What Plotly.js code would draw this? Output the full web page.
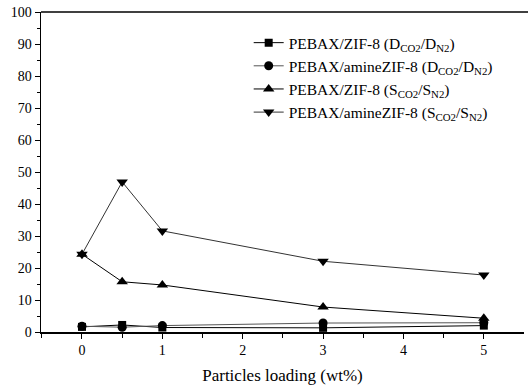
<!DOCTYPE html>
<html>
<head>
<meta charset="utf-8">
<script src="https://cdn.plot.ly/plotly-3.0.1.min.js"></script>
<style>
html,body{margin:0;padding:0;overflow:hidden;background:#fff;}
#chart{width:528px;height:385px;}
</style>
</head>
<body>
<div id="chart"></div>
<script>
const loading = [0, 0.5, 1, 3, 5];
const zifD = [1.6, 2.2, 1.4, 1.3, 2.0];
const amineD = [1.8, 1.5, 2.0, 2.8, 2.9];
const zifS = [24.3, 15.7, 14.7, 7.8, 4.3];
const amineS = [24.3, 46.9, 31.6, 22.1, 17.8];
const names = [
  'PEBAX/ZIF-8 (D<sub>CO2</sub>/D<sub>N2</sub>)',
  'PEBAX/amineZIF-8 (D<sub>CO2</sub>/D<sub>N2</sub>)',
  'PEBAX/ZIF-8 (S<sub>CO2</sub>/S<sub>N2</sub>)',
  'PEBAX/amineZIF-8 (S<sub>CO2</sub>/S<sub>N2</sub>)'
];
const xTicks = [0, 1, 2, 3, 4, 5];
const yTicks = [0, 10, 20, 30, 40, 50, 60, 70, 80, 90, 100];

function tr(y, name, sym, size, lineColor) {
  return {
    x: loading, y: y, name: name, type: 'scatter', mode: 'lines+markers',
    line: {color: lineColor, width: 1},
    marker: {symbol: sym, size: size, color: '#000'}
  };
}
const data = [
  tr(zifD, names[0], 'square', 8, '#000'),
  tr(amineD, names[1], 'circle', 9, '#555'),
  tr(zifS, names[2], 'triangle-up', 10, '#000'),
  tr(amineS, names[3], 'triangle-down', 10, '#333')
];
const fam = '"Liberation Serif", "Times New Roman", serif';
const layout = {
  width: 528, height: 385,
  margin: {l: 41, r: 4, t: 12, b: 53},
  paper_bgcolor: '#fff', plot_bgcolor: '#fff',
  font: {family: fam, size: 14, color: '#000'},
  showlegend: true,
  legend: {x: 0.43, y: 0.956, xanchor: 'left', yanchor: 'top', bgcolor: 'rgba(0,0,0,0)',
           font: {family: fam, size: 15.5, color: '#000'}, tracegroupgap: 0},
  shapes: [
    {type: 'line', xref: 'paper', yref: 'paper', x0: 0, x1: 1.02, y0: 1, y1: 1,
     line: {color: '#000', width: 1.5}, layer: 'above'}
  ],
  xaxis: {
    range: [-0.51, 5.5], showgrid: false, zeroline: false,
    showline: true, linecolor: '#000', linewidth: 1.5, mirror: false,
    tickvals: xTicks, ticktext: xTicks.map(String),
    ticks: 'outside', ticklen: 5, tickcolor: '#000', tickwidth: 1,
    minor: {tickvals: [-0.5, 0.5, 1.5, 2.5, 3.5, 4.5], ticks: 'outside', ticklen: 4, tickcolor: '#000', tickwidth: 1, showgrid: false},
    tickfont: {family: fam, size: 14, color: '#000'},
    title: {text: 'Particles loading (wt%)', font: {family: fam, size: 17, color: '#000'}, standoff: 12},
    automargin: false
  },
  yaxis: {
    range: [0, 100], showgrid: false, zeroline: false,
    showline: true, linecolor: '#000', linewidth: 1.5, mirror: false,
    tickvals: yTicks, ticktext: yTicks.map(String),
    ticks: 'outside', ticklen: 5, tickcolor: '#000', tickwidth: 1,
    minor: {tickvals: [5, 15, 25, 35, 45, 55, 65, 75, 85, 95], ticks: 'outside', ticklen: 3, tickcolor: '#000', tickwidth: 1, showgrid: false},
    tickfont: {family: fam, size: 14, color: '#000'},
    automargin: false
  }
};
Plotly.newPlot('chart', data, layout, {displayModeBar: false, staticPlot: true});
</script>
</body>
</html>
